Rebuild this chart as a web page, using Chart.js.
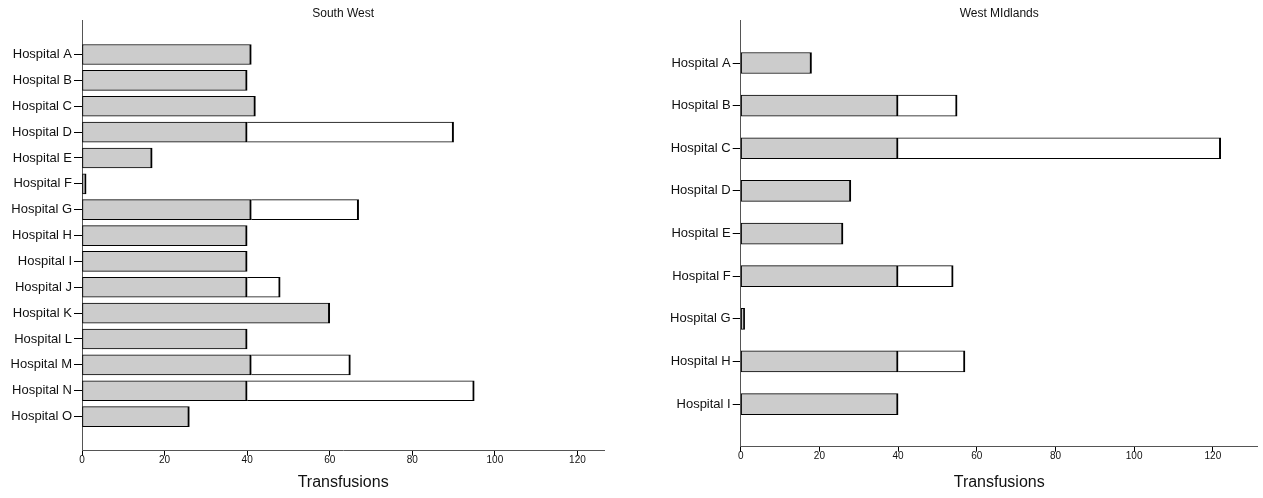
<!DOCTYPE html>
<html>
<head>
<meta charset="utf-8">
<script src="https://cdn.jsdelivr.net/npm/chart.js@4.4.1/dist/chart.umd.min.js"></script>
<style>
  html, body { margin: 0; padding: 0; background: #fff; }
  body { width: 1263px; height: 498px; position: relative; overflow: hidden; }
  canvas { position: absolute; top: 0; }
  #c1 { left: 0; }
  #c2 { left: 630px; }
</style>
</head>
<body>
<canvas id="c1" width="630" height="498"></canvas>
<canvas id="c2" width="633" height="498"></canvas>
<script>
// ---- Data ----
const swHospitals = ['Hospital A','Hospital B','Hospital C','Hospital D','Hospital E','Hospital F','Hospital G','Hospital H','Hospital I','Hospital J','Hospital K','Hospital L','Hospital M','Hospital N','Hospital O'];
const swGrey  = [41, 40, 42, 40, 17, 1, 41, 40, 40, 40, 60, 40, 41, 40, 26];
const swExtra = [0, 0, 0, 50, 0, 0, 26, 0, 0, 8, 0, 0, 24, 55, 0];

const wmHospitals = ['Hospital A','Hospital B','Hospital C','Hospital D','Hospital E','Hospital F','Hospital G','Hospital H','Hospital I'];
const wmGrey  = [18, 40, 40, 28, 26, 40, 1, 40, 40];
const wmExtra = [0, 15, 82, 0, 0, 14, 0, 17, 0];

const xTickValues = [0, 20, 40, 60, 80, 100, 120];

Chart.defaults.font.family = "'Liberation Sans', Arial, sans-serif";
Chart.defaults.color = '#111';

function toPoints(arr) {
  return arr.map((v, i) => ({ x: v > 0 ? v : null, y: i }));
}

function makeChart(id, title, labels, grey, extra, cfg) {
  return new Chart(document.getElementById(id), {
    type: 'bar',
    data: {
      datasets: [
        {
          data: toPoints(grey),
          backgroundColor: '#cccccc',
          borderColor: '#000',
          borderWidth: { top: 1, bottom: 1, left: 1, right: 2 },
          borderSkipped: false,
          barThickness: cfg.barThickness
        },
        {
          data: toPoints(extra),
          backgroundColor: '#ffffff',
          borderColor: '#000',
          borderWidth: { top: 1, bottom: 1, left: 0, right: 2 },
          borderSkipped: false,
          barThickness: cfg.barThickness
        }
      ]
    },
    options: {
      indexAxis: 'y',
      responsive: false,
      animation: false,
      layout: { padding: { left: 0, right: cfg.padRight, top: 0, bottom: 0 } },
      plugins: {
        legend: { display: false },
        tooltip: { enabled: false },
        title: {
          display: true,
          text: title,
          fullSize: false,
          color: '#111',
          font: { size: 12, weight: 'normal' },
          padding: { top: 6, bottom: 0 }
        }
      },
      scales: {
        x: {
          type: 'linear',
          stacked: true,
          min: 0,
          max: cfg.xMax,
          afterBuildTicks: s => { s.ticks = xTickValues.map(v => ({ value: v })); },
          ticks: { font: { size: 10 }, color: '#111', padding: -1, maxRotation: 0 },
          grid: { drawOnChartArea: false, drawTicks: true, tickLength: 5, color: '#000', tickWidth: 1, offset: false },
          border: { display: true, color: '#555', width: 1 },
          title: { display: true, text: 'Transfusions', color: '#111', font: { size: 16 }, padding: { top: 2, bottom: 6 } },
          afterFit: s => { s.height = cfg.xHeight; }
        },
        y: {
          type: 'linear',
          stacked: true,
          reverse: true,
          offset: false,
          min: cfg.yMin,
          max: cfg.yMax,
          afterBuildTicks: s => { s.ticks = labels.map((_, i) => ({ value: i })); },
          ticks: { autoSkip: false, font: { size: 13 }, color: '#111', padding: 2, callback: v => labels[v] },
          grid: { drawOnChartArea: false, drawTicks: true, tickLength: 8, color: '#000', tickWidth: 1, offset: false },
          border: { display: true, color: '#555', width: 1 },
          afterFit: s => { s.width = cfg.yWidth; }
        }
      }
    }
  });
}

makeChart('c1', 'South West', swHospitals, swGrey, swExtra, {
  barThickness: 20, padRight: 25.7, xMax: 126.5, xHeight: 47.3, yWidth: 82, yMin: -1.32, yMax: 15.32
});
makeChart('c2', 'West MIdlands', wmHospitals, wmGrey, wmExtra, {
  barThickness: 21, padRight: 5.3, xMax: 131.4, xHeight: 51.3, yWidth: 110.7, yMin: -1, yMax: 9
});
</script>
</body>
</html>
